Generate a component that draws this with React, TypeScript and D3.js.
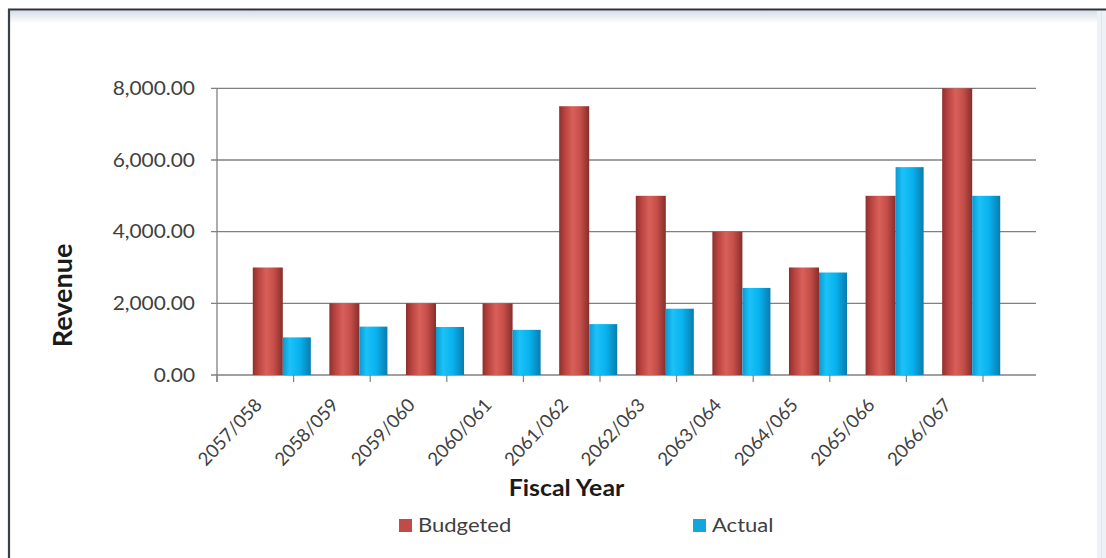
import React from 'react';
import * as d3 from 'd3';

const categories = ['2057/058', '2058/059', '2059/060', '2060/061', '2061/062', '2062/063', '2063/064', '2064/065', '2065/066', '2066/067'];
const budgeted = [3000, 2000, 2000, 2000, 7500, 5000, 4000, 3000, 5000, 8000];
const actual = [1050, 1350, 1340, 1260, 1420, 1850, 2430, 2860, 5800, 5000];
const yTicks = [0, 2000, 4000, 6000, 8000];
const seriesNames = ['Budgeted', 'Actual'];
const xTitle = 'Fiscal Year';
const yTitle = 'Revenue';

const W = 1106;
const H = 558;
const plot = { left: 217, right: 1036, top: 88.3, bottom: 375 };
const catRight = 983;
const FONT = "Lato, 'Open Sans', sans-serif";

export default function App() {
  const x = d3.scaleBand<string>().domain(categories).range([plot.left, catRight]);
  const step = x.step();
  const y = d3.scaleLinear().domain([0, 8000]).range([plot.bottom, plot.top]);
  const fmt = d3.format(',.2f');
  const bOff = step * 0.467;
  const bW = step * 0.392;
  const aW = step * 0.366;
  const sx = 1.13;

  return (
    <svg width={W} height={H} style={{ position: 'absolute', left: 0, top: 0, display: 'block', background: '#fff' }} fontFamily={FONT}>
      <defs>
        <linearGradient id="gB" x1="0" x2="1" y1="0" y2="0">
          <stop offset="0%" stopColor="#8c302d" />
          <stop offset="18%" stopColor="#b8423e" />
          <stop offset="45%" stopColor="#d9605a" />
          <stop offset="70%" stopColor="#c64f4a" />
          <stop offset="100%" stopColor="#862e2b" />
        </linearGradient>
        <linearGradient id="gA" x1="0" x2="1" y1="0" y2="0">
          <stop offset="0%" stopColor="#0b98d2" />
          <stop offset="25%" stopColor="#1cc2f7" />
          <stop offset="60%" stopColor="#08b2ee" />
          <stop offset="100%" stopColor="#0a7cae" />
        </linearGradient>
        <linearGradient id="gTop" x1="0" x2="0" y1="0" y2="1">
          <stop offset="0%" stopColor="#d6dee8" />
          <stop offset="100%" stopColor="#ffffff" />
        </linearGradient>
      </defs>

      {/* frame */}
      <rect x={10} y={10.5} width={W - 10} height={13} fill="url(#gTop)" />
      <rect x={1097} y={10.5} width={9} height={H - 10} fill="#eef2f6" />
      <line x1={1101.5} x2={1101.5} y1={11} y2={H} stroke="#dfe5ec" strokeWidth={1} />
      <line x1={8} x2={W} y1={9.5} y2={9.5} stroke="#2e3338" strokeWidth={2.2} />
      <line x1={9} x2={9} y1={9} y2={H} stroke="#3a4048" strokeWidth={2.2} />

      {/* gridlines */}
      {yTicks.map((t) => (
        <line key={'g' + t} x1={plot.left - 6} x2={plot.right} y1={y(t)} y2={y(t)} stroke="#808080" strokeWidth={1.3} />
      ))}
      <line x1={plot.left} x2={plot.left} y1={plot.top} y2={plot.bottom + 7} stroke="#808080" strokeWidth={1.3} />
      {d3.range(categories.length + 1).map((k) => (
        <line key={'xt' + k} x1={plot.left + k * step} x2={plot.left + k * step} y1={plot.bottom} y2={plot.bottom + 7} stroke="#808080" strokeWidth={1.2} />
      ))}

      {/* y tick labels */}
      {yTicks.map((t) => (
        <g key={'yl' + t} transform={`translate(195,${y(t)}) scale(${sx},1)`}>
          <text textAnchor="end" dy="0.36em" fontSize={18.5} fill="#404040">{fmt(t)}</text>
        </g>
      ))}

      {/* bars */}
      {categories.map((c, i) => {
        const x0 = (x(c) as number) + bOff;
        return (
          <g key={c}>
            <rect x={x0} y={y(budgeted[i])} width={bW} height={plot.bottom - y(budgeted[i])} fill="url(#gB)" />
            <rect x={x0 + bW} y={y(actual[i])} width={aW} height={plot.bottom - y(actual[i])} fill="url(#gA)" />
          </g>
        );
      })}

      {/* x tick labels */}
      {categories.map((c) => {
        const ax = (x(c) as number) + 46;
        const ay = 406;
        return (
          <text key={'xl' + c} transform={`translate(${ax},${ay}) rotate(-47)`} textAnchor="end" fontSize={18.5} fill="#404040">{c}</text>
        );
      })}

      {/* axis titles */}
      <g transform={`translate(566.5,496) scale(${sx},1)`}>
        <text textAnchor="middle" fontSize={22} fontWeight="bold" fill="#1a1a1a">{xTitle}</text>
      </g>
      <text transform="translate(72,295.5) rotate(-90)" textAnchor="middle" fontSize={27} fontWeight="bold" fill="#1a1a1a">{yTitle}</text>

      {/* legend */}
      {seriesNames.map((s, i) => {
        const lx = i === 0 ? 399 : 693;
        return (
          <g key={s}>
            <rect x={lx} y={519} width={13} height={13} fill={i === 0 ? '#c24a47' : '#12a6de'} />
            <g transform={`translate(${lx + 19},532) scale(${sx},1)`}>
              <text fontSize={19.5} fill="#404040">{s}</text>
            </g>
          </g>
        );
      })}
    </svg>
  );
}
